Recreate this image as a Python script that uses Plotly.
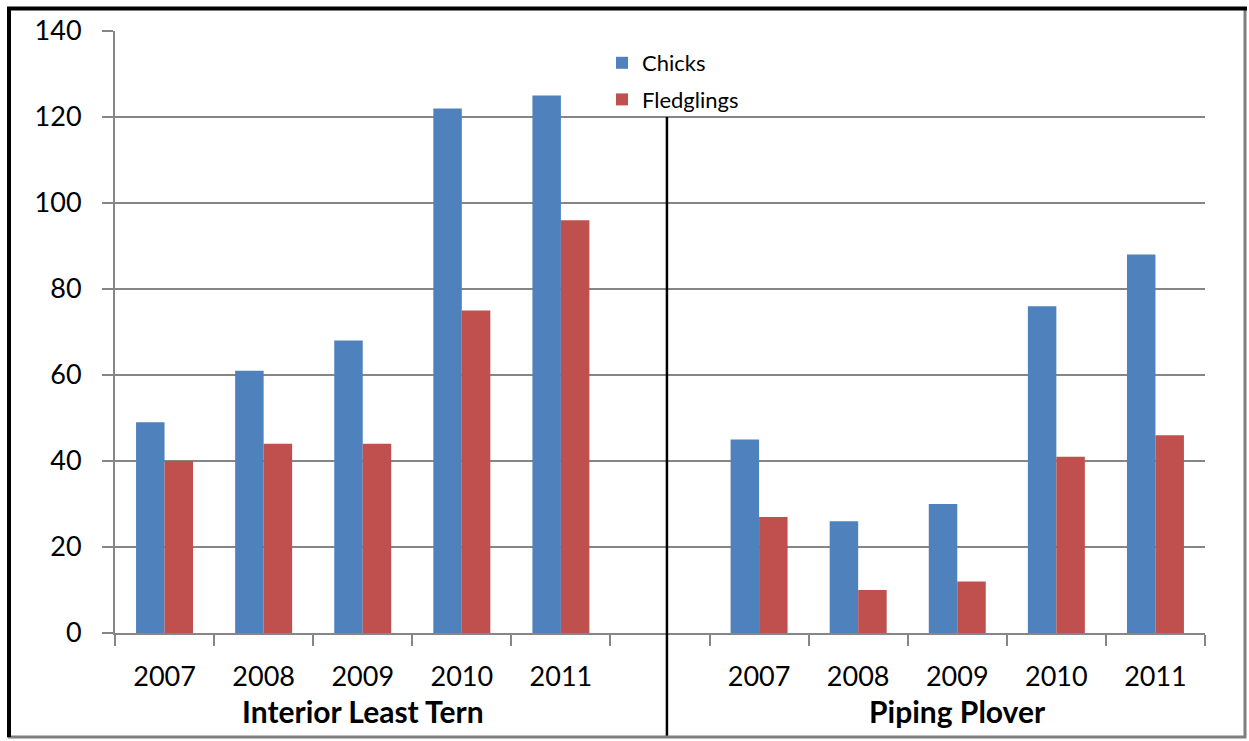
import plotly.graph_objects as go

years = ["2007", "2008", "2009", "2010", "2011"]
groups = ["Interior Least Tern", "Piping Plover"]
tern_chicks = [49, 61, 68, 122, 125]
tern_fledglings = [40, 44, 44, 75, 96]
plover_chicks = [45, 26, 30, 76, 88]
plover_fledglings = [27, 10, 12, 41, 46]

BLUE = "#4F81BD"
RED = "#C0504D"
FONT = "Lato"

# slot layout: 5 tern slots, one blank slot, 5 plover slots
tern_pos = list(range(0, 5))
plover_pos = list(range(6, 11))
xpos = tern_pos + plover_pos

W, H = 1249, 741
L, R, T, B = 115, 44, 31, 108
pw, ph = W - L - R, H - T - B


def px_x(p):
    return (p - L) / pw


def px_y(p):
    return (H - B - p) / ph


fig = go.Figure()
fig.add_trace(go.Bar(x=xpos, y=tern_chicks + plover_chicks, name="Chicks",
                     marker=dict(color=BLUE, line=dict(width=0)), legendgroup="a"))
fig.add_trace(go.Bar(x=xpos, y=tern_fledglings + plover_fledglings, name="Fledglings",
                     marker=dict(color=RED, line=dict(width=0)), legendgroup="b"))

fig.update_layout(
    width=W, height=H,
    margin=dict(l=L, r=R, t=T, b=B),
    paper_bgcolor="white", plot_bgcolor="white",
    barmode="group", bargap=0.425, bargroupgap=0,
    font=dict(family=FONT, color="black"),
    legend=dict(x=px_x(602), y=px_y(42), xanchor="left", yanchor="top",
                font=dict(size=22, family=FONT), bgcolor="rgba(0,0,0,0)",
                tracegroupgap=5, traceorder="grouped"),
    showlegend=True,
)

fig.update_xaxes(
    range=[-0.5, 10.5], tickmode="array", tickvals=xpos, ticktext=years + years,
    ticks="", showgrid=False, zeroline=False,
    showline=True, linecolor="#868686", linewidth=2,
    tickfont=dict(size=27, family=FONT, color="black"),
    ticklabelstandoff=19,
    minor=dict(tickmode="linear", tick0=-0.5, dtick=1, ticks="outside",
               ticklen=11, tickwidth=2, tickcolor="#868686", showgrid=False),
)
fig.update_yaxes(
    range=[0, 140], tickmode="linear", tick0=0, dtick=20,
    ticks="outside", ticklen=11, tickwidth=2, tickcolor="#868686",
    showgrid=True, gridcolor="#868686", gridwidth=2,
    zeroline=False, showline=True, linecolor="#868686", linewidth=2,
    tickfont=dict(size=27, family=FONT, color="black"),
    ticklabelstandoff=15,
)

# group labels
fig.add_annotation(x=sum(tern_pos) / len(tern_pos), y=px_y(711), xref="x", yref="paper",
                   text="<b>" + groups[0] + "</b>", showarrow=False,
                   font=dict(size=30, family=FONT, color="black"), yanchor="middle")
fig.add_annotation(x=sum(plover_pos) / len(plover_pos), y=px_y(711), xref="x", yref="paper",
                   text="<b>" + groups[1] + "</b>", showarrow=False,
                   font=dict(size=30, family=FONT, color="black"), yanchor="middle")

# divider between groups
fig.add_shape(type="line", xref="x", yref="paper", x0=5.07, x1=5.07,
              y0=px_y(117), y1=px_y(737), line=dict(color="black", width=2.5), layer="above")

# chart border
fig.add_shape(type="rect", xref="paper", yref="paper",
              x0=px_x(9), x1=px_x(1245), y0=px_y(737), y1=px_y(8.5),
              line=dict(color="#7f7f7f", width=3), layer="above")
fig.add_shape(type="line", xref="paper", yref="paper",
              x0=px_x(7), x1=px_x(1247), y0=px_y(8.5), y1=px_y(8.5),
              line=dict(color="black", width=4), layer="above")
fig.add_shape(type="line", xref="paper", yref="paper",
              x0=px_x(9), x1=px_x(9), y0=px_y(737), y1=px_y(7),
              line=dict(color="black", width=4), layer="above")

fig.write_html("out.html")
